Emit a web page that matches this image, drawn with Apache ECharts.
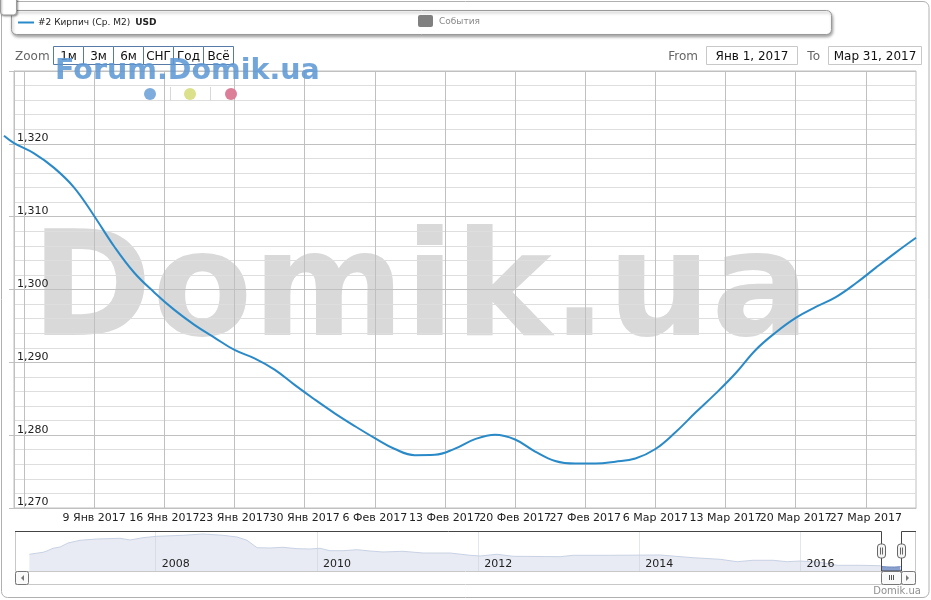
<!DOCTYPE html>
<html><head><meta charset="utf-8">
<script src="https://cdn.jsdelivr.net/npm/echarts@6/dist/echarts.min.js"></script>
<style>html,body{margin:0;padding:0;background:#fff}#c{width:931px;height:600px}</style>
</head><body><div id="c"></div>
<script>
// ---------- data ----------
const seriesName = '#2 Кирпич (Ср. М2)';
const currencyName = 'USD';
const eventsName = 'События';
// days since 1 Jan 2017
const dayOffsets = [-1,0,2,4,6,8,10,12,14,16,18,20,22,24,26,28,30,32,34,36,38,40,42,44,46,48,50,52,54,56,58,60,62,64,66,68,70,72,74,76,78,80,82,84,86,88,90];
const priceUSD = [1321.1,1320.1,1318.7,1316.7,1314.0,1310.1,1305.9,1302.3,1299.6,1297.2,1295.15,1293.4,1291.7,1290.55,1289.0,1286.9,1284.9,1283.0,1281.25,1279.6,1278.1,1277.25,1277.3,1278.15,1279.45,1280.05,1279.4,1277.75,1276.45,1276.1,1276.1,1276.35,1276.8,1278.1,1280.4,1283.1,1285.7,1288.5,1291.7,1294.1,1296.1,1297.6,1298.95,1300.85,1303.0,1305.1,1307.1];
const weekTickDays = [1,8,15,22,29,36,43,50,57,64,71,78,85];
const weekLabelDays = [8,15,22,29,36,43,50,57,64,71,78,85];
const monthNames = ['Янв','Фев','Мар','Апр'];
const yMin = 1270, yMax = 1330, yStep = 10;
const xMinDay = 0, xMaxDay = 90, lineMinDay = -1;
// navigator history (decimal years, USD)
const navYears = [2006.432,2006.602,2006.648,2006.726,2006.813,2006.912,2007.061,2007.268,2007.557,2007.681,2007.842,2008.012,2008.339,2008.587,2008.835,2009.009,2009.133,2009.257,2009.418,2009.579,2009.753,2009.914,2010.038,2010.162,2010.324,2010.497,2010.659,2010.820,2011.068,2011.317,2011.652,2011.900,2012.024,2012.235,2012.433,2013.017,2013.178,2013.637,2014.257,2014.667,2015.002,2015.213,2015.411,2015.659,2015.833,2015.994,2016.243,2016.454,2016.739,2016.99];
const navValues = [2211,2356,2450,2646,2740,3030,3226,3320,3371,3248,3414,3516,3588,3683,3588,3465,3226,2689,2668,2718,2617,2595,2646,2472,2472,2544,2450,2378,2428,2305,2305,2138,2088,2211,2066,2037,2138,2138,2160,1964,1848,1674,1776,1776,1674,1725,1631,1413,1413,1384];
const navYearLabels = [2008,2010,2012,2014,2016];
const navXMin = 2006.254, navXMax = 2017.42;
const navYMin = 1000, navYMax = 3900;
const zoomButtons = ['1м','3м','6м','СНГ','Год','Всё'];
const rangeFromText = 'Янв 1, 2017';
const rangeToText = 'Мар 31, 2017';
const watermarkSmall = 'Forum.Domik.ua';
const watermarkBig = 'Domik.ua';
const creditText = 'Domik.ua';

// ---------- helpers ----------
const FONT = '"DejaVu Sans", Verdana, sans-serif';
function dayLabel(d) {
  if (d >= xMaxDay) return '';
  const dt = new Date(2017, 0, 1 + Math.round(d));
  return dt.getDate() + ' ' + monthNames[dt.getMonth()] + ' ' + dt.getFullYear();
}
const mainData = dayOffsets.map((d, i) => [d, priceUSD[i]]);
const selIdx = dayOffsets.map((d, i) => i).filter(i => dayOffsets[i] >= 0);
const navSel = selIdx.map(i => [2017 + dayOffsets[i] / 365, priceUSD[i]]);
const navFull = navYears.map((t, i) => [t, navValues[i]]).concat(navSel);

const chart = echarts.init(document.getElementById('c'), null, {renderer: 'canvas'});
const PX_PER_DAY = (931 - 14 - 15) / (xMaxDay - xMinDay);
const lineGridLeft = 14 - (xMinDay - lineMinDay) * PX_PER_DAY;
const option = {
  animation: false,
  backgroundColor: '#fff',
  textStyle: {fontFamily: FONT},
  grid: [
    {left: 14, right: 15, top: 71, height: 437, show: true, borderColor: '#c0c0c0', borderWidth: 1, backgroundColor: 'transparent'},
    {left: 15, right: 16, top: 531, height: 40, show: false},
    {left: lineGridLeft, right: 15, top: 71, height: 437, show: false}
  ],
  xAxis: [
    {
      type: 'value', gridIndex: 0, min: xMinDay, max: xMaxDay,
      axisLine: {show: true, lineStyle: {color: '#c0c0c0'}},
      axisTick: {show: false, customValues: weekTickDays},
      splitLine: {show: true, lineStyle: {color: '#c0c0c0', width: 1}},
      axisLabel: {customValues: weekLabelDays.concat([xMaxDay]), formatter: v => dayLabel(v), color: '#222', fontSize: 11, fontFamily: FONT, margin: 5,
        hideOverlap: false}
    },
    {
      type: 'value', gridIndex: 1, min: navXMin, max: navXMax, z: 10,
      axisLine: {show: false},
      axisTick: {show: false, customValues: navYearLabels},
      splitLine: {show: true, lineStyle: {color: 'rgba(200,205,215,0.5)', width: 1}},
      axisLabel: {customValues: navYearLabels, inside: true, align: 'left', padding: [0, 0, 0, 6], margin: 1, color: '#222', fontSize: 11, fontFamily: FONT,
        formatter: v => String(v), showMinLabel: true, showMaxLabel: true, hideOverlap: false}
    },
    {type: 'value', gridIndex: 2, min: lineMinDay, max: xMaxDay, show: false, splitLine: {show: false}}
  ],
  yAxis: [
    {
      type: 'value', gridIndex: 0, min: yMin, max: yMax, interval: yStep,
      axisLine: {show: true, lineStyle: {color: '#c0c0c0'}},
      axisTick: {show: true, length: 5, lineStyle: {color: '#c0c0c0'}},
      splitLine: {show: true, lineStyle: {color: '#c0c0c0'}},
      minorTick: {show: false, splitNumber: 5},
      minorSplitLine: {show: true, lineStyle: {color: '#dedede'}},
      axisLabel: {inside: true, margin: 3, verticalAlign: 'bottom', showMinLabel: true, color: '#222', fontSize: 11, fontFamily: FONT,
        formatter: v => v === yMax ? '' : v.toLocaleString('en-US')}
    },
    {type: 'value', gridIndex: 1, min: navYMin, max: navYMax, show: false, splitLine: {show: false}},
    {type: 'value', gridIndex: 2, min: yMin, max: yMax, show: false, splitLine: {show: false}}
  ],
  series: [
    {
      name: seriesName, type: 'line', xAxisIndex: 2, yAxisIndex: 2, data: mainData,
      showSymbol: false, smooth: 0.4, z: 5,
      lineStyle: {color: '#2a8ac8', width: 2}
    },
    {
      type: 'line', xAxisIndex: 1, yAxisIndex: 1, data: navFull, showSymbol: false, silent: true,
      lineStyle: {color: '#c9d2e4', width: 1}, areaStyle: {color: '#e8ebf3', opacity: 1, origin: 'start'}
    },
    {
      type: 'line', xAxisIndex: 1, yAxisIndex: 1, data: navSel, showSymbol: false, silent: true,
      lineStyle: {color: '#5b78b6', width: 1}, areaStyle: {color: '#8aa0cf', opacity: 1, origin: 'start'}
    }
  ]
};
chart.setOption(option);

// ---------- chrome (UI elements) ----------
const hx1 = chart.convertToPixel({xAxisIndex: 1}, navSel[0][0]);
const hx2 = chart.convertToPixel({xAxisIndex: 1}, navSel[navSel.length - 1][0]);
const navL = 15, navR = 915, navT = 531, navB = 571, sbB = 584;

const g = [];
// outer border
g.push({type: 'rect', shape: {x: 1.5, y: 1.5, width: 927.5, height: 596, r: 6}, style: {fill: 'none', stroke: '#b0b0b0', lineWidth: 1}, z: 100, silent: true});
// small top-left square
g.push({type: 'rect', shape: {x: 0.5, y: -6, width: 16, height: 21, r: 3}, style: {fill: '#fff', stroke: '#9a9a9a', lineWidth: 1, shadowBlur: 2, shadowOffsetX: 1, shadowOffsetY: 1, shadowColor: 'rgba(0,0,0,0.35)'}, z: 101});
// legend box
g.push({type: 'rect', shape: {x: 11.5, y: 10.5, width: 820, height: 24, r: 5}, style: {fill: '#fff', stroke: '#9a9a9a', lineWidth: 1, shadowBlur: 3, shadowOffsetX: 1, shadowOffsetY: 2, shadowColor: 'rgba(0,0,0,0.35)'}, z: 50});
g.push({type: 'line', shape: {x1: 18, y1: 22.5, x2: 34, y2: 22.5}, style: {stroke: '#2a8ac8', lineWidth: 2}, z: 51});
g.push({type: 'text', x: 38, y: 23, style: {text: '{a|' + seriesName + '}{b|' + currencyName + '}', verticalAlign: 'middle', rich: {a: {fontSize: 9, fontFamily: FONT, fill: '#222'}, b: {fontSize: 9, fontWeight: 'bold', fontFamily: FONT, fill: '#222', padding: [0, 0, 0, 5]}}}, z: 51});
g.push({type: 'rect', shape: {x: 418, y: 15, width: 15, height: 12, r: 2}, style: {fill: '#808080'}, z: 51});
g.push({type: 'text', x: 439, y: 22, style: {text: eventsName, fontSize: 9, fontFamily: FONT, fill: '#888', verticalAlign: 'middle'}, z: 51});
// zoom label and buttons
g.push({type: 'text', x: 15, y: 57, style: {text: 'Zoom', fontSize: 12, fontFamily: FONT, fill: '#666', verticalAlign: 'middle'}, z: 20});
zoomButtons.forEach((b, i) => {
  g.push({type: 'rect', shape: {x: 53.5 + 30 * i, y: 46.5, width: 30, height: 18}, style: {fill: '#fff', stroke: '#587aa8', lineWidth: 1}, z: 20});
  g.push({type: 'text', x: 68.5 + 30 * i, y: 56.5, style: {text: b, fontSize: 12, fontFamily: FONT, fill: '#111', align: 'center', verticalAlign: 'middle'}, z: 21});
});
// From / To
g.push({type: 'text', x: 698, y: 56.5, style: {text: 'From', fontSize: 12, fontFamily: FONT, fill: '#666', align: 'right', verticalAlign: 'middle'}, z: 20});
g.push({type: 'rect', shape: {x: 706.5, y: 46.5, width: 91, height: 18}, style: {fill: '#fff', stroke: '#c8c8c8', lineWidth: 1}, z: 20});
g.push({type: 'text', x: 752, y: 56.5, style: {text: rangeFromText, fontSize: 12, fontFamily: FONT, fill: '#111', align: 'center', verticalAlign: 'middle'}, z: 21});
g.push({type: 'text', x: 820, y: 56.5, style: {text: 'To', fontSize: 12, fontFamily: FONT, fill: '#666', align: 'right', verticalAlign: 'middle'}, z: 20});
g.push({type: 'rect', shape: {x: 828.5, y: 46.5, width: 93, height: 18}, style: {fill: '#fff', stroke: '#c8c8c8', lineWidth: 1}, z: 20});
g.push({type: 'text', x: 875, y: 56.5, style: {text: rangeToText, fontSize: 12, fontFamily: FONT, fill: '#111', align: 'center', verticalAlign: 'middle'}, z: 21});
// watermarks
g.push({type: 'text', x: 31, y: 297, style: {text: watermarkBig, fontSize: 146, fontWeight: 'bold', fontFamily: FONT, fill: '#d9d9d9', verticalAlign: 'middle'}, z: -1, silent: true});
g.push({type: 'text', x: 55, y: 72, style: {text: watermarkSmall, fontSize: 28.5, fontWeight: 'bold', fontFamily: FONT, fill: 'rgba(95,152,212,0.88)', verticalAlign: 'middle'}, z: 30, silent: true});
[['#7eaddd', 150], ['#dbe08b', 190], ['#dc7e97', 231]].forEach(([c, x]) => {
  g.push({type: 'circle', shape: {cx: x, cy: 94, r: 6}, style: {fill: c}, z: 30});
});
[170, 210].forEach(x => g.push({type: 'line', shape: {x1: x + 0.5, y1: 87, x2: x + 0.5, y2: 101}, style: {stroke: '#d8d8d8', lineWidth: 1}, z: 30}));
// navigator frame
g.push({type: 'line', shape: {x1: navL + 0.5, y1: navT, x2: navL + 0.5, y2: navB}, style: {stroke: '#c8c8c8', lineWidth: 1}, z: 40});
g.push({type: 'line', shape: {x1: navR + 0.5, y1: navT, x2: navR + 0.5, y2: navB}, style: {stroke: '#c8c8c8', lineWidth: 1}, z: 40});
g.push({type: 'polyline', shape: {points: [[navL, navT + 0.5], [Math.round(hx1) + 0.5, navT + 0.5], [Math.round(hx1) + 0.5, navB], [Math.round(hx2) + 0.5, navB], [Math.round(hx2) + 0.5, navT + 0.5], [navR + 1, navT + 0.5]]}, style: {fill: 'none', stroke: '#444', lineWidth: 1}, z: 41});
[hx1, hx2].forEach(h => {
  const cx = Math.round(h) + 0.5;
  g.push({type: 'rect', shape: {x: cx - 4, y: 544, width: 8, height: 14, r: 3}, style: {fill: '#f4f4f4', stroke: '#666', lineWidth: 1}, z: 42});
  g.push({type: 'line', shape: {x1: cx - 1, y1: 547.5, x2: cx - 1, y2: 554.5}, style: {stroke: '#666', lineWidth: 1}, z: 43});
  g.push({type: 'line', shape: {x1: cx + 1, y1: 547.5, x2: cx + 1, y2: 554.5}, style: {stroke: '#666', lineWidth: 1}, z: 43});
});
// scrollbar
g.push({type: 'rect', shape: {x: navL + 0.5, y: navB + 0.5, width: navR - navL, height: sbB - navB}, style: {fill: '#fff', stroke: '#c8c8c8', lineWidth: 1}, z: 40});
g.push({type: 'rect', shape: {x: navL + 0.5, y: navB + 0.5, width: 13, height: 13, r: 2}, style: {fill: '#fafafa', stroke: '#777', lineWidth: 1}, z: 41});
g.push({type: 'polygon', shape: {points: [[24, 575], [24, 581], [21, 578]]}, style: {fill: '#777'}, z: 42});
g.push({type: 'rect', shape: {x: Math.round(hx1) + 0.5, y: navB + 0.5, width: Math.round(hx2) - Math.round(hx1), height: 13, r: 2}, style: {fill: '#fafafa', stroke: '#777', lineWidth: 1}, z: 41});
const tm = Math.round((hx1 + hx2) / 2) + 0.5;
[-2, 0, 2].forEach(o => g.push({type: 'line', shape: {x1: tm + o, y1: 575, x2: tm + o, y2: 580}, style: {stroke: '#555', lineWidth: 1}, z: 42}));
g.push({type: 'rect', shape: {x: Math.round(hx2) + 0.5, y: navB + 0.5, width: navR - Math.round(hx2), height: 13, r: 2}, style: {fill: '#fafafa', stroke: '#777', lineWidth: 1}, z: 41});
g.push({type: 'polygon', shape: {points: [[906, 575], [906, 581], [909, 578]]}, style: {fill: '#777'}, z: 42});
// credit
g.push({type: 'text', x: 921, y: 591, style: {text: creditText, fontSize: 10, fontFamily: FONT, fill: '#909090', align: 'right', verticalAlign: 'middle'}, z: 20});

chart.setOption({graphic: {elements: g}});
</script>
</body></html>
